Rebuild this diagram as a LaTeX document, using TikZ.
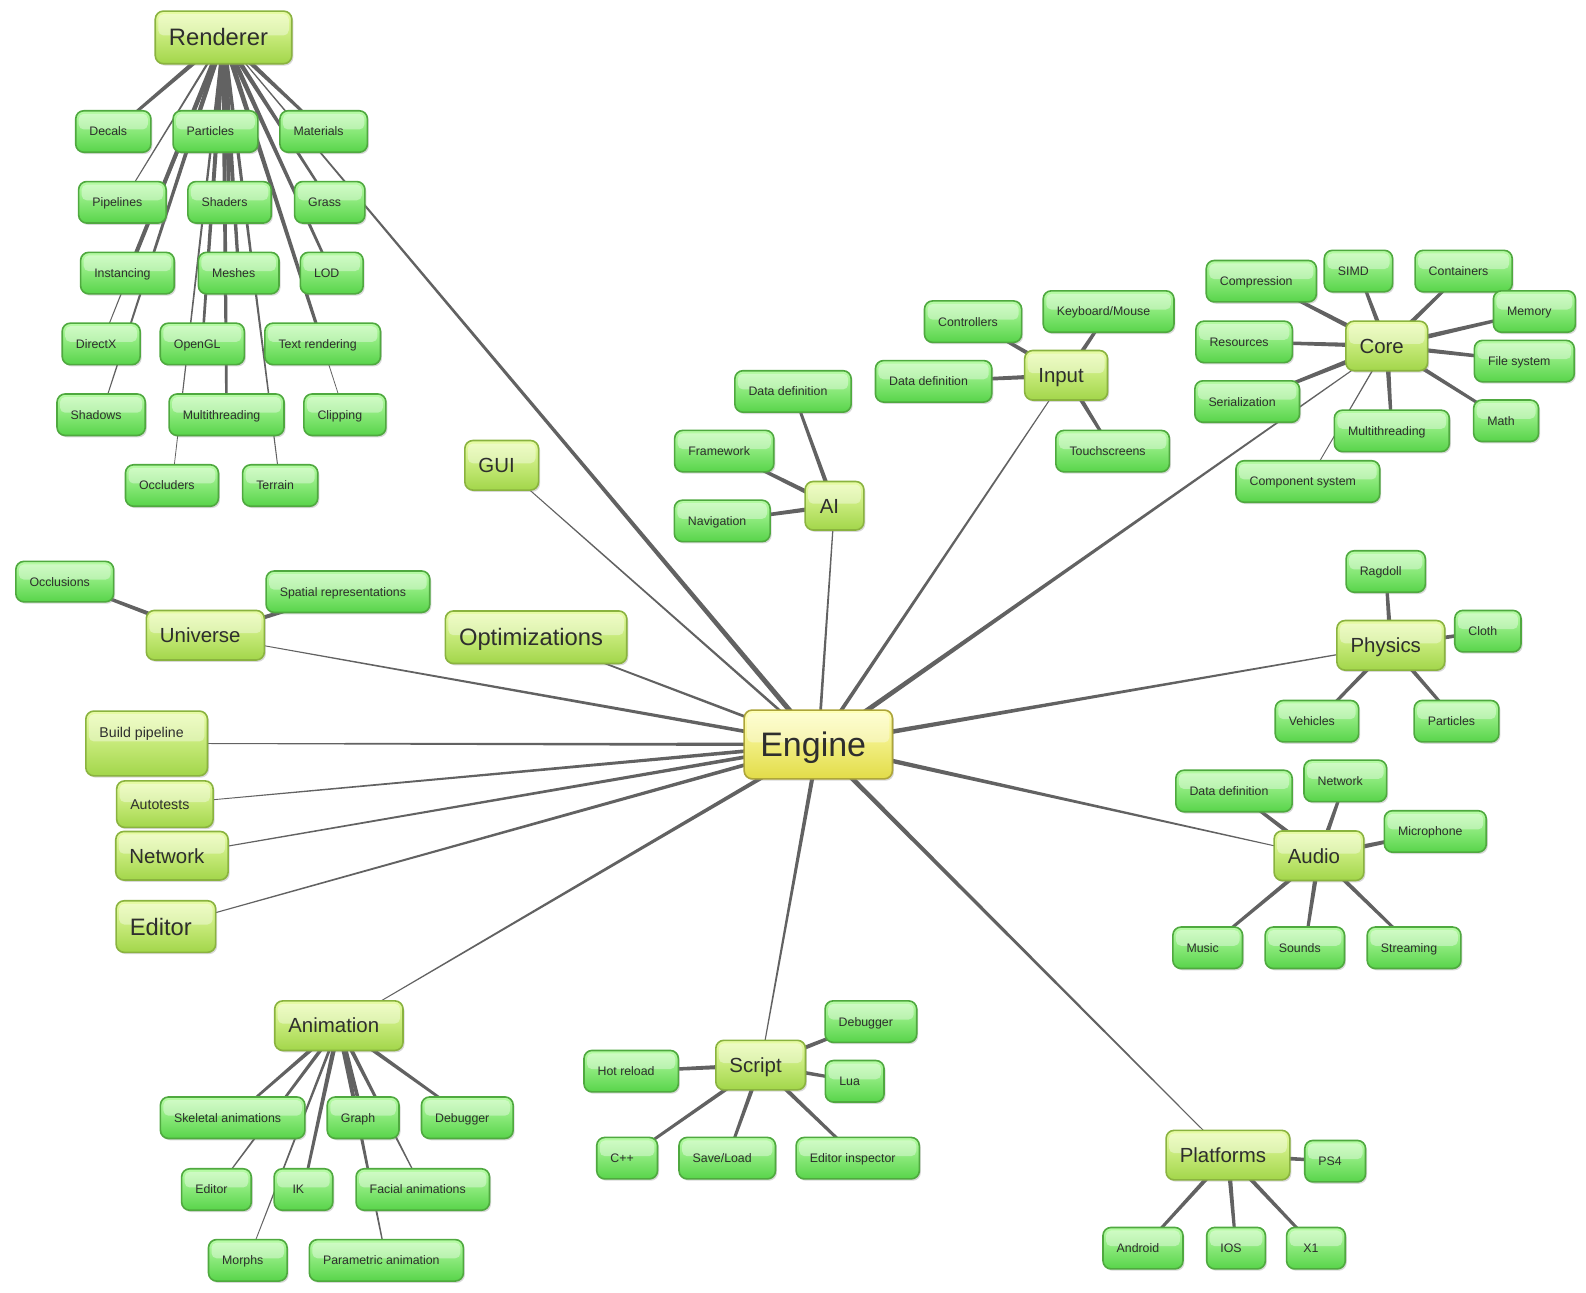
\documentclass[tikz,border=0pt]{standalone}
\usepackage{fontspec}
\setmainfont{Liberation Sans}
\usepackage{tikz}
\usetikzlibrary{calc,backgrounds,shadows}
\usepackage{xcolor}
\definecolor{leafTop}{HTML}{B8FCA6}
\definecolor{leafBot}{HTML}{58D44A}
\definecolor{leafEdge}{HTML}{4FA93F}
\definecolor{topicTop}{HTML}{E8FCA6}
\definecolor{topicBot}{HTML}{A2D64A}
\definecolor{topicEdge}{HTML}{8AB33F}
\definecolor{hubTop}{HTML}{FFFFB8}
\definecolor{hubBot}{HTML}{E2DC48}
\definecolor{hubEdge}{HTML}{ADA53A}
\definecolor{branchGrey}{HTML}{626262}
\definecolor{labelInk}{HTML}{2E2E2E}
% tapered branch: [end half width]{parent}{child}{start half width}
\newcommand{\branch}[4][1.3pt]{%
  \fill[branchfill] ($(#2.center)!#4!90:(#3.center)$) -- ($(#3.center)!#1!-90:(#2.center)$)
    -- ($(#3.center)!#1!90:(#2.center)$) -- ($(#2.center)!#4!-90:(#3.center)$) -- cycle;}
\tikzset{
  gloss/.style     = {path picture={\fill[white, opacity=0.38, rounded corners=5pt]
                        ([xshift=3pt, yshift=-3pt]path picture bounding box.north west) rectangle
                        ([xshift=-3pt, yshift=2pt]path picture bounding box.east);}},
  leaf/.style      = {rounded corners=8pt, draw=leafEdge, line width=1.6pt,
                      top color=leafTop, bottom color=leafBot, gloss,
                      drop shadow={shadow xshift=1.5pt, shadow yshift=-1.8pt, opacity=0.3},
                      minimum height=41pt, minimum width=58pt, inner xsep=13.5pt,
                      text height=8.8pt, text depth=0pt, text=labelInk,
                      font=\fontsize{12.2}{14}\selectfont, execute at end node=\hspace*{10pt}},
  topic/.style     = {leaf, draw=topicEdge, top color=topicTop, bottom color=topicBot,
                      minimum height=49pt, text height=14.5pt,
                      font=\fontsize{20.2}{24}\selectfont},
  bigtopic/.style  = {topic, minimum height=52pt, text height=16.8pt,
                      font=\fontsize{23.5}{28}\selectfont},
  smalltopic/.style= {topic, minimum height=46pt, text height=10pt,
                      font=\fontsize{14}{17}\selectfont},
  hub/.style       = {topic, draw=hubEdge, top color=hubTop, bottom color=hubBot,
                      minimum height=68pt, inner xsep=16pt, text height=24pt,
                      font=\fontsize{33.6}{40}\selectfont},
  branchfill/.style= {fill=branchGrey},
}
\begin{document}
\begin{tikzpicture}[x=1pt, y=-1pt]
  \useasboundingbox (0,0) rectangle (1568,1278);

  \node[hub] (engine) at (809,736) {Engine};

  % renderer
  \node[bigtopic] (renderer) at (221,37) {Renderer};
  \node[leaf] (decals) at (112,130) {Decals};
  \node[leaf] (rparticles) at (213,130) {Particles};
  \node[leaf] (materials) at (320,130) {Materials};
  \node[leaf] (pipelines) at (121,200) {Pipelines};
  \node[leaf] (shaders) at (227,200) {Shaders};
  \node[leaf] (grass) at (326,200) {Grass};
  \node[leaf] (instancing) at (126,270) {Instancing};
  \node[leaf] (meshes) at (236,270) {Meshes};
  \node[leaf] (lod) at (328,270) {LOD};
  \node[leaf] (directx) at (100,340) {DirectX};
  \node[leaf] (opengl) at (200,340) {OpenGL};
  \node[leaf] (textrender) at (319,340) {Text rendering};
  \node[leaf] (shadows) at (100,410) {Shadows};
  \node[leaf] (rthreads) at (224,410) {Multithreading};
  \node[leaf] (clipping) at (341,410) {Clipping};
  \node[leaf] (occluders) at (170,480) {Occluders};
  \node[leaf] (terrain) at (277,480) {Terrain};

  % left side
  \node[topic] (gui) at (496,460) {GUI};
  \node[bigtopic] (optim) at (530,630) {Optimizations};
  \node[topic] (universe) at (203,628) {Universe};
  \node[leaf, minimum height=40pt] (occlusions) at (64,575) {Occlusions};
  \node[leaf] (spatial) at (344,585) {Spatial representations};
  \node[smalltopic, minimum height=64pt, inner ysep=16pt, text depth=22pt] (build) at (145,735) {Build pipeline};
  \node[smalltopic] (autotests) at (163,795) {Autotests};
  \node[topic, minimum height=48pt] (network) at (170,846) {Network};
  \node[bigtopic, minimum height=51pt] (editor) at (164,916) {Editor};

  % ai and input
  \node[topic, minimum height=48pt] (ai) at (825,500) {AI};
  \node[leaf] (aidata) at (784,387) {Data definition};
  \node[leaf] (framework) at (716,446) {Framework};
  \node[leaf] (navigation) at (714,515) {Navigation};
  \node[topic] (input) at (1054,371) {Input};
  \node[leaf] (controllers) at (962,318) {Controllers};
  \node[leaf] (keyboard) at (1096,308) {Keyboard/Mouse};
  \node[leaf] (indata) at (923,377) {Data definition};
  \node[leaf] (touch) at (1100,446) {Touchscreens};

  % core
  \node[topic] (core) at (1371,342) {Core};
  \node[leaf] (compression) at (1247,278) {Compression};
  \node[leaf] (simd) at (1343,268) {SIMD};
  \node[leaf] (containers) at (1447,268) {Containers};
  \node[leaf] (memory) at (1517,308) {Memory};
  \node[leaf] (resources) at (1230,338) {Resources};
  \node[leaf] (filesys) at (1507,357) {File system};
  \node[leaf] (serial) at (1233,397) {Serialization};
  \node[leaf] (cthreads) at (1376,426) {Multithreading};
  \node[leaf] (math) at (1489,416) {Math};
  \node[leaf] (components) at (1293,476) {Component system};

  % physics and audio
  \node[topic] (physics) at (1375,638) {Physics};
  \node[leaf] (ragdoll) at (1370,565) {Ragdoll};
  \node[leaf] (cloth) at (1471,624) {Cloth};
  \node[leaf] (vehicles) at (1302,713) {Vehicles};
  \node[leaf] (pparticles) at (1440,713) {Particles};
  \node[topic] (audio) at (1304,846) {Audio};
  \node[leaf] (adata) at (1220,782) {Data definition};
  \node[leaf] (anetwork) at (1330,772) {Network};
  \node[leaf] (micro) at (1419,822) {Microphone};
  \node[leaf] (music) at (1194,937) {Music};
  \node[leaf] (sounds) at (1290,937) {Sounds};
  \node[leaf] (streaming) at (1398,937) {Streaming};

  % platforms and script
  \node[topic] (platforms) at (1214,1142) {Platforms};
  \node[leaf] (ps4) at (1320,1148) {PS4};
  \node[leaf] (android) at (1130,1234) {Android};
  \node[leaf] (ios) at (1222,1234) {IOS};
  \node[leaf] (xone) at (1301,1234) {X1};
  \node[topic] (script) at (752,1053) {Script};
  \node[leaf] (hotreload) at (624,1059) {Hot reload};
  \node[leaf] (sdebugger) at (861,1010) {Debugger};
  \node[leaf] (lua) at (845,1069) {Lua};
  \node[leaf] (cpp) at (620,1145) {C++};
  \node[leaf] (saveload) at (719,1145) {Save/Load};
  \node[leaf] (inspector) at (848,1145) {Editor inspector};

  % animation
  \node[topic] (animation) at (335,1014) {Animation};
  \node[leaf] (skeletal) at (230,1105) {Skeletal animations};
  \node[leaf] (graph) at (359,1105) {Graph};
  \node[leaf] (adebugger) at (462,1105) {Debugger};
  \node[leaf] (aeditor) at (214,1176) {Editor};
  \node[leaf] (ik) at (300,1176) {IK};
  \node[leaf] (facial) at (418,1176) {Facial animations};
  \node[leaf] (morphs) at (245,1246) {Morphs};
  \node[leaf] (parametric) at (382,1246) {Parametric animation};

  \begin{scope}[on background layer]
    \fill[white] (0,0) rectangle (1568,1278);
    % engine
    \branch[0.5pt]{engine}{renderer}{2.6pt}
    \branch[0.4pt]{engine}{gui}{1.4pt}
    \branch[0.5pt]{engine}{ai}{1.5pt}
    \branch[0.4pt]{engine}{input}{2pt}
    \branch[0.4pt]{engine}{core}{2.6pt}
    \branch[0.6pt]{engine}{optim}{1.6pt}
    \branch[0.3pt]{engine}{universe}{2pt}
    \branch[0.3pt]{engine}{build}{1.8pt}
    \branch[0.3pt]{engine}{autotests}{2pt}
    \branch[0.4pt]{engine}{network}{2pt}
    \branch[0.4pt]{engine}{editor}{2pt}
    \branch[0.4pt]{engine}{physics}{2.5pt}
    \branch[0.3pt]{engine}{audio}{2.5pt}
    \branch[0.3pt]{engine}{platforms}{2.5pt}
    \branch[0.4pt]{engine}{script}{2.2pt}
    \branch[0.3pt]{engine}{animation}{2.2pt}
    % renderer
    \branch[1.2pt]{renderer}{decals}{2.5pt}
    \branch[1.5pt]{renderer}{rparticles}{2.5pt}
    \branch[1.2pt]{renderer}{materials}{2.5pt}
    \branch[0.4pt]{renderer}{pipelines}{1.2pt}
    \branch[1.5pt]{renderer}{shaders}{2.5pt}
    \branch[1pt]{renderer}{grass}{2.5pt}
    \branch[1.5pt]{renderer}{instancing}{2.5pt}
    \branch[1.5pt]{renderer}{meshes}{2.5pt}
    \branch[1.2pt]{renderer}{lod}{2.5pt}
    \branch[0.4pt]{renderer}{directx}{1.5pt}
    \branch[1.2pt]{renderer}{opengl}{2.5pt}
    \branch[1.5pt]{renderer}{textrender}{2.5pt}
    \branch[0.4pt]{renderer}{shadows}{2.5pt}
    \branch[1.2pt]{renderer}{rthreads}{2.5pt}
    \branch[0.3pt]{renderer}{clipping}{1.2pt}
    \branch[0.3pt]{renderer}{occluders}{1.5pt}
    \branch[0.4pt]{renderer}{terrain}{2pt}
    % universe
    \branch{universe}{occlusions}{2.4pt}
    \branch{universe}{spatial}{2.4pt}
    % ai and input
    \branch{ai}{aidata}{2.2pt}
    \branch{ai}{framework}{2.4pt}
    \branch{ai}{navigation}{2.4pt}
    \branch{input}{controllers}{2.4pt}
    \branch{input}{keyboard}{2.4pt}
    \branch{input}{indata}{2.4pt}
    \branch{input}{touch}{2.4pt}
    % core
    \branch{core}{compression}{2.6pt}
    \branch{core}{simd}{2.4pt}
    \branch{core}{containers}{2.4pt}
    \branch{core}{memory}{2.6pt}
    \branch{core}{resources}{2.4pt}
    \branch{core}{filesys}{2.4pt}
    \branch{core}{serial}{2.6pt}
    \branch{core}{cthreads}{2.6pt}
    \branch{core}{math}{2.2pt}
    \branch[0.4pt]{core}{components}{0.7pt}
    % physics
    \branch{physics}{ragdoll}{2.4pt}
    \branch{physics}{cloth}{2.6pt}
    \branch{physics}{vehicles}{2.2pt}
    \branch{physics}{pparticles}{2.2pt}
    % audio
    \branch{audio}{adata}{2.4pt}
    \branch{audio}{anetwork}{2.4pt}
    \branch{audio}{micro}{2.6pt}
    \branch{audio}{music}{2.2pt}
    \branch{audio}{sounds}{2.4pt}
    \branch{audio}{streaming}{2.2pt}
    % platforms
    \branch{platforms}{ps4}{2.6pt}
    \branch{platforms}{android}{2.2pt}
    \branch{platforms}{ios}{2.4pt}
    \branch{platforms}{xone}{2.2pt}
    % script
    \branch{script}{hotreload}{2.4pt}
    \branch{script}{sdebugger}{2.4pt}
    \branch{script}{lua}{2.2pt}
    \branch{script}{cpp}{2pt}
    \branch{script}{saveload}{2.2pt}
    \branch{script}{inspector}{2.2pt}
    % animation
    \branch[1pt]{animation}{skeletal}{2.2pt}
    \branch[1.5pt]{animation}{graph}{2.6pt}
    \branch[1.1pt]{animation}{adebugger}{2.2pt}
    \branch[0.4pt]{animation}{aeditor}{2pt}
    \branch[1.2pt]{animation}{ik}{2.4pt}
    \branch[0.4pt]{animation}{facial}{2.2pt}
    \branch[0.3pt]{animation}{morphs}{1.5pt}
    \branch[0.5pt]{animation}{parametric}{2.5pt}
  \end{scope}
\end{tikzpicture}
\end{document}
